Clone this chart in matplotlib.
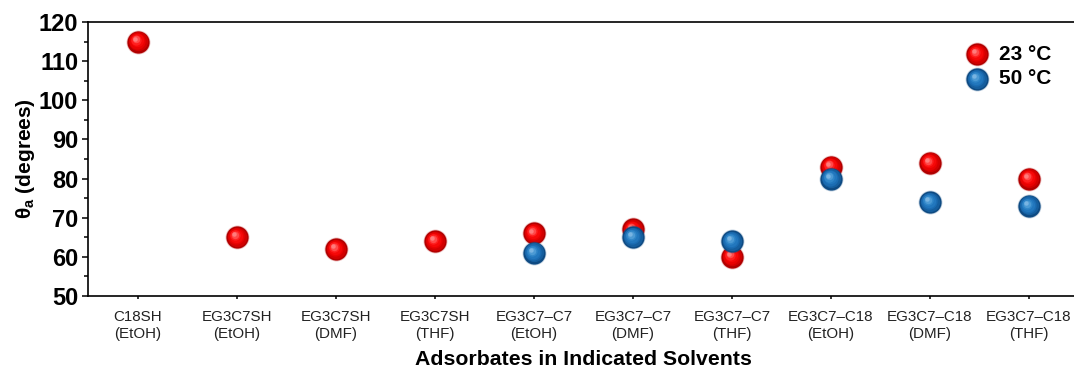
import numpy as np
import matplotlib
matplotlib.use("Agg")
import matplotlib.pyplot as plt
from matplotlib.transforms import offset_copy

plt.rcParams["font.family"] = ["Liberation Sans", "DejaVu Sans"]
plt.rcParams["mathtext.default"] = "regular"

# contact angle data, advancing water
adsorbates = ["C18SH\n(EtOH)", "EG3C7SH\n(EtOH)", "EG3C7SH\n(DMF)", "EG3C7SH\n(THF)",
              "EG3C7\u2013C7\n(EtOH)", "EG3C7\u2013C7\n(DMF)", "EG3C7\u2013C7\n(THF)",
              "EG3C7\u2013C18\n(EtOH)", "EG3C7\u2013C18\n(DMF)", "EG3C7\u2013C18\n(THF)"]
theta_23 = [115, 65, 62, 64, 66, 67, 60, 83, 84, 80]
theta_50 = [np.nan, np.nan, np.nan, np.nan, 61, 65, 64, 80, 74, 73]

red_shades = ["#b00000", "#d20000", "#e80202", "#f60808", "#ff1e1e", "#ff4a4a", "#ff7c7c"]
blue_shades = ["#0e4a82", "#155e9e", "#1b6cb2", "#2277bd", "#3086c8", "#4c9ad4", "#78b4e2"]


def spheres(ax, x, y, shades, size=16.0, transform=None, z=3):
    # layered discs shifted toward upper left give a shaded ball look
    if transform is None:
        transform = ax.transData
    ax.scatter(x, y, s=(size + 1.2) ** 2, color=shades[0], alpha=0.25,
               linewidths=0, transform=transform, zorder=z)
    n = len(shades)
    for k, c in enumerate(shades):
        frac = 1 - 0.8 * k / (n - 1)
        d = size * frac
        off = (size - d) * 0.16
        tr = offset_copy(transform, fig=ax.figure, x=-off, y=off, units="points")
        ax.scatter(x, y, s=d ** 2, color=c, linewidths=0, transform=tr, zorder=z + (k + 1) * 0.01)


fig = plt.figure(figsize=(10.74, 3.68), dpi=100)
ax = fig.add_axes([88 / 1074, 72 / 368, 990.5 / 1074, 274 / 368])

xs = np.arange(len(adsorbates))
spheres(ax, xs, theta_23, red_shades, z=3)
spheres(ax, xs, theta_50, blue_shades, z=4)

ax.set_xlim(-0.505, 9.5)
ax.set_ylim(50, 120)
ax.set_yticks(np.arange(50, 121, 10))
ax.set_yticks(np.arange(55, 120, 10), minor=True)
ax.set_xticks(xs)
ax.set_xticklabels(adsorbates, fontsize=10.9, color="#222222", linespacing=1.3)

for s in ax.spines.values():
    s.set_linewidth(1.2)
ax.spines["right"].set_visible(False)
ax.tick_params(axis="y", which="major", length=4, width=1.1, labelsize=17, pad=3)
ax.tick_params(axis="y", which="minor", length=3, width=1.1)
ax.tick_params(axis="x", length=2, width=1.1, pad=8)
for t in ax.get_yticklabels():
    t.set_fontweight("bold")

ax.set_xlabel("Adsorbates in Indicated Solvents", fontsize=15.3, fontweight="bold", labelpad=6)
ax.set_ylabel(r"θ$_{a}$ (degrees)", fontsize=15, fontweight="bold", labelpad=1)

# legend
leg_x = (977 - 88) / 990.5
for i, (lab, shades) in enumerate([("23 °C", red_shades), ("50 °C", blue_shades)]):
    ly = 1 - (54 + 25 * i - 22) / 274
    spheres(ax, [leg_x], [ly], shades, transform=ax.transAxes, z=6)
    ax.text(leg_x + 0.022, ly, lab, transform=ax.transAxes, fontsize=15,
            fontweight="bold", va="center", ha="left")

fig.savefig("out.png", dpi=100)
